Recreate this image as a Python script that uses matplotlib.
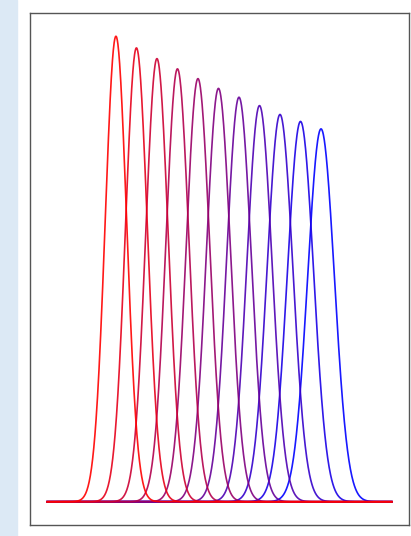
import numpy as np
import matplotlib.pyplot as plt
from matplotlib.patches import Rectangle

# curve parameters (x in arbitrary units, peak relative)
centers = [0, 1, 2, 3, 4, 5, 6, 7, 8, 9, 10]
sigmas = [0.520, 0.533, 0.546, 0.559, 0.572, 0.586, 0.598, 0.611, 0.625, 0.637, 0.649]
peaks = [1.000, 0.975, 0.952, 0.930, 0.909, 0.888, 0.869, 0.851, 0.832, 0.817, 0.801]
x_range = [-3.35, 13.45]

fig = plt.figure(figsize=(4.11, 5.36), dpi=100)
fig.patches.append(Rectangle((0, 0), 17 / 411, 1, transform=fig.transFigure,
                             color='#dce9f5', zorder=0))
ax = fig.add_axes([30 / 411, 11 / 536, 379 / 411, 512 / 536])

x = np.linspace(x_range[0], x_range[1], 1200)
n = len(centers)
# drawn blue first so the red curve ends up on top
for i in reversed(range(n)):
    t = i / (n - 1)
    y = peaks[i] * np.exp(-0.5 * ((x - centers[i]) / sigmas[i]) ** 2)
    ax.plot(x, y, color=(1 - t, 0, t), lw=1.2, alpha=0.9)

ax.set_xticks([])
ax.set_yticks([])
for s in ax.spines.values():
    s.set_color('#555555')
    s.set_linewidth(1.0)

fig.savefig('out.png', dpi=100)
